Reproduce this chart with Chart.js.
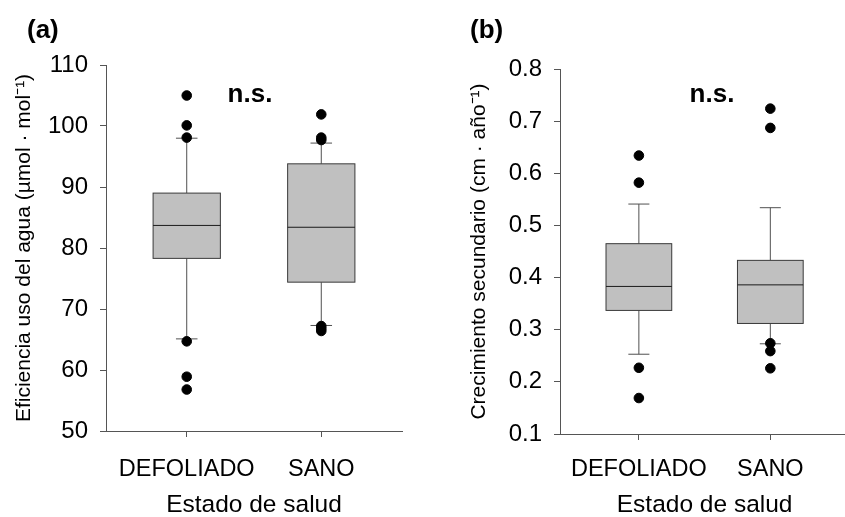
<!DOCTYPE html>
<html>
<head>
<meta charset="utf-8">
<script src="https://cdn.jsdelivr.net/npm/chart.js@4.4.1/dist/chart.umd.min.js"></script>
<style>
    html, body { margin: 0; padding: 0; background: #fff; overflow: hidden; }
    #wrap { position: relative; width: 845px; height: 517px; overflow: hidden; }
    #chartA { position: absolute; left: 0; top: 0; }
    #chartB { position: absolute; left: 425px; top: 0; }
</style>
</head>
<body>
<div id="wrap">
    <canvas id="chartA" width="420" height="517"></canvas>
    <canvas id="chartB" width="430" height="517"></canvas>
</div>
<script>
// DATA
const categories = ['DEFOLIADO', 'SANO']

// (a) eficiencia uso del agua
const wueWhiskerLow = [65.1, 67.3]
const wueQ1 = [78.3, 74.4]
const wueMedian = [83.7, 83.4]
const wueQ3 = [89.0, 93.8]
const wueWhiskerHigh = [98.0, 97.2]
const wueOutliers = [
    [105.0, 100.1, 98.1, 64.7, 58.9, 56.8],
    [101.9, 98.1, 97.7, 67.2, 66.8, 66.4],
]
const wueTicks = [50, 60, 70, 80, 90, 100, 110]

// (b) crecimiento secundario
const growthWhiskerLow = [0.253, 0.273]
const growthQ1 = [0.337, 0.312]
const growthMedian = [0.383, 0.386]
const growthQ3 = [0.465, 0.433]
const growthWhiskerHigh = [0.541, 0.534]
const growthOutliers = [
    [0.634, 0.582, 0.227, 0.169],
    [0.724, 0.687, 0.274, 0.259, 0.226],
]
const growthTicks = [0.1, 0.2, 0.3, 0.4, 0.5, 0.6, 0.7, 0.8]

// STYLE
const fontFamily = "'Liberation Sans', Arial, sans-serif"
const axisColor = '#555555'
const boxFill = '#c0c0c0'
const boxLine = '#3a3a3a'
const boxHalf = 0.25
const capHalf = 0.08

const toPoints = (outliers) => {
    const points = []
    outliers.forEach((values, i) => {
        values.forEach((v) => points.push({ x: i + 1, y: v }))
    })
    return points
}

// BOX PLOT PLUGIN
const boxPlot = {
    id: 'boxPlot',
    beforeDatasetsDraw(chart, args, opts) {
        const { ctx, scales: { x, y } } = chart
        ctx.save()
        ctx.lineWidth = 1
        opts.median.forEach((med, i) => {
            const c = x.getPixelForValue(i + 1)
            const l = x.getPixelForValue(i + 1 - boxHalf)
            const r = x.getPixelForValue(i + 1 + boxHalf)
            const cl = x.getPixelForValue(i + 1 - capHalf)
            const cr = x.getPixelForValue(i + 1 + capHalf)
            const yq1 = y.getPixelForValue(opts.q1[i])
            const yq3 = y.getPixelForValue(opts.q3[i])
            const ymed = y.getPixelForValue(med)
            const ylo = y.getPixelForValue(opts.low[i])
            const yhi = y.getPixelForValue(opts.high[i])

            // whiskers
            ctx.strokeStyle = '#505050'
            ctx.beginPath()
            ctx.moveTo(c, yq3); ctx.lineTo(c, yhi)
            ctx.moveTo(cl, yhi); ctx.lineTo(cr, yhi)
            ctx.moveTo(c, yq1); ctx.lineTo(c, ylo)
            ctx.moveTo(cl, ylo); ctx.lineTo(cr, ylo)
            ctx.stroke()

            // box
            ctx.fillStyle = boxFill
            ctx.fillRect(l, yq3, r - l, yq1 - yq3)
            ctx.strokeStyle = boxLine
            ctx.strokeRect(l, yq3, r - l, yq1 - yq3)

            // median
            ctx.strokeStyle = '#1a1a1a'
            ctx.beginPath()
            ctx.moveTo(l, ymed); ctx.lineTo(r, ymed)
            ctx.stroke()
        })
        ctx.restore()
    },
}

// LABELS PLUGIN
const panelText = {
    id: 'panelText',
    afterDraw(chart, args, opts) {
        const { ctx } = chart
        ctx.save()
        ctx.fillStyle = '#000'
        ctx.font = `bold 26px ${fontFamily}`
        ctx.textBaseline = 'alphabetic'
        ctx.textAlign = 'left'
        ctx.fillText(opts.panel, opts.panelX, 37.5)
        ctx.textAlign = 'center'
        ctx.fillText('n.s.', opts.nsX, 101.5)
        ctx.restore()
    },
}

const makeChart = (canvas, cfg) => {
    return new Chart(canvas, {
        type: 'scatter',
        data: {
            datasets: [{
                data: toPoints(cfg.outliers),
                backgroundColor: '#000',
                borderColor: '#000',
                pointRadius: 4.8,
                pointHoverRadius: 4.8,
            }]
        },
        plugins: [boxPlot, panelText],
        options: {
            responsive: false,
            animation: false,
            events: [],
            layout: {
                padding: { left: 0, top: cfg.top, right: cfg.right, bottom: 0 }
            },
            plugins: {
                legend: { display: false },
                tooltip: { enabled: false },
                boxPlot: {
                    low: cfg.low, q1: cfg.q1, median: cfg.median, q3: cfg.q3, high: cfg.high,
                },
                panelText: { panel: cfg.panel, panelX: cfg.panelX, nsX: cfg.nsX },
            },
            scales: {
                x: {
                    type: 'linear',
                    min: 0.4,
                    max: 2.6,
                    afterBuildTicks: (scale) => {
                        scale.ticks = categories.map((c, i) => ({ value: i + 1 }))
                    },
                    afterFit: (scale) => { scale.height = cfg.xHeight },
                    border: { display: true, color: axisColor, width: 1 },
                    grid: {
                        display: true,
                        drawOnChartArea: false,
                        drawTicks: true,
                        tickLength: 6,
                        color: axisColor,
                    },
                    ticks: {
                        padding: cfg.xPad,
                        color: '#000',
                        maxRotation: 0,
                        font: { family: fontFamily, size: 23.5 },
                        callback: (value) => categories[Math.round(value) - 1],
                    },
                    title: {
                        display: true,
                        text: 'Estado de salud',
                        color: '#000',
                        padding: 0,
                        font: { family: fontFamily, size: 24.5, lineHeight: 1 },
                    },
                },
                y: {
                    type: 'linear',
                    min: cfg.ticks[0],
                    max: cfg.ticks[cfg.ticks.length - 1],
                    afterBuildTicks: (scale) => {
                        scale.ticks = cfg.ticks.map((v) => ({ value: v }))
                    },
                    afterFit: (scale) => { scale.width = cfg.yWidth },
                    border: { display: true, color: axisColor, width: 1 },
                    grid: {
                        display: true,
                        drawOnChartArea: false,
                        drawTicks: true,
                        tickLength: 6,
                        color: axisColor,
                    },
                    ticks: {
                        padding: 12,
                        color: '#000',
                        font: { family: fontFamily, size: 24 },
                        callback: cfg.tickFormat,
                    },
                    title: {
                        display: true,
                        text: cfg.yTitle,
                        color: '#000',
                        padding: { top: cfg.yTitlePad, bottom: 0 },
                        font: { family: fontFamily, size: 21 },
                    },
                },
            },
        },
    })
}

// (a)
makeChart(document.getElementById('chartA'), {
    outliers: wueOutliers,
    low: wueWhiskerLow, q1: wueQ1, median: wueMedian, q3: wueQ3, high: wueWhiskerHigh,
    ticks: wueTicks,
    tickFormat: (v) => v.toFixed(0),
    yTitle: 'Eficiencia uso del agua (µmol · mol⁻¹)',
    yTitlePad: 11.4,
    yWidth: 106,
    xHeight: 86,
    xPad: 18.9,
    top: 65,
    right: 18,
    panel: '(a)', panelX: 27, nsX: 250,
})

// (b)
makeChart(document.getElementById('chartB'), {
    outliers: growthOutliers,
    low: growthWhiskerLow, q1: growthQ1, median: growthMedian, q3: growthQ3, high: growthWhiskerHigh,
    ticks: growthTicks,
    tickFormat: (v) => v.toFixed(1),
    yTitle: 'Crecimiento secundario (cm · año⁻¹)',
    yTitlePad: 41.4,
    yWidth: 135,
    xHeight: 83,
    xPad: 15.9,
    top: 69,
    right: 0,
    panel: '(b)', panelX: 45, nsX: 287,
})
</script>
</body>
</html>
